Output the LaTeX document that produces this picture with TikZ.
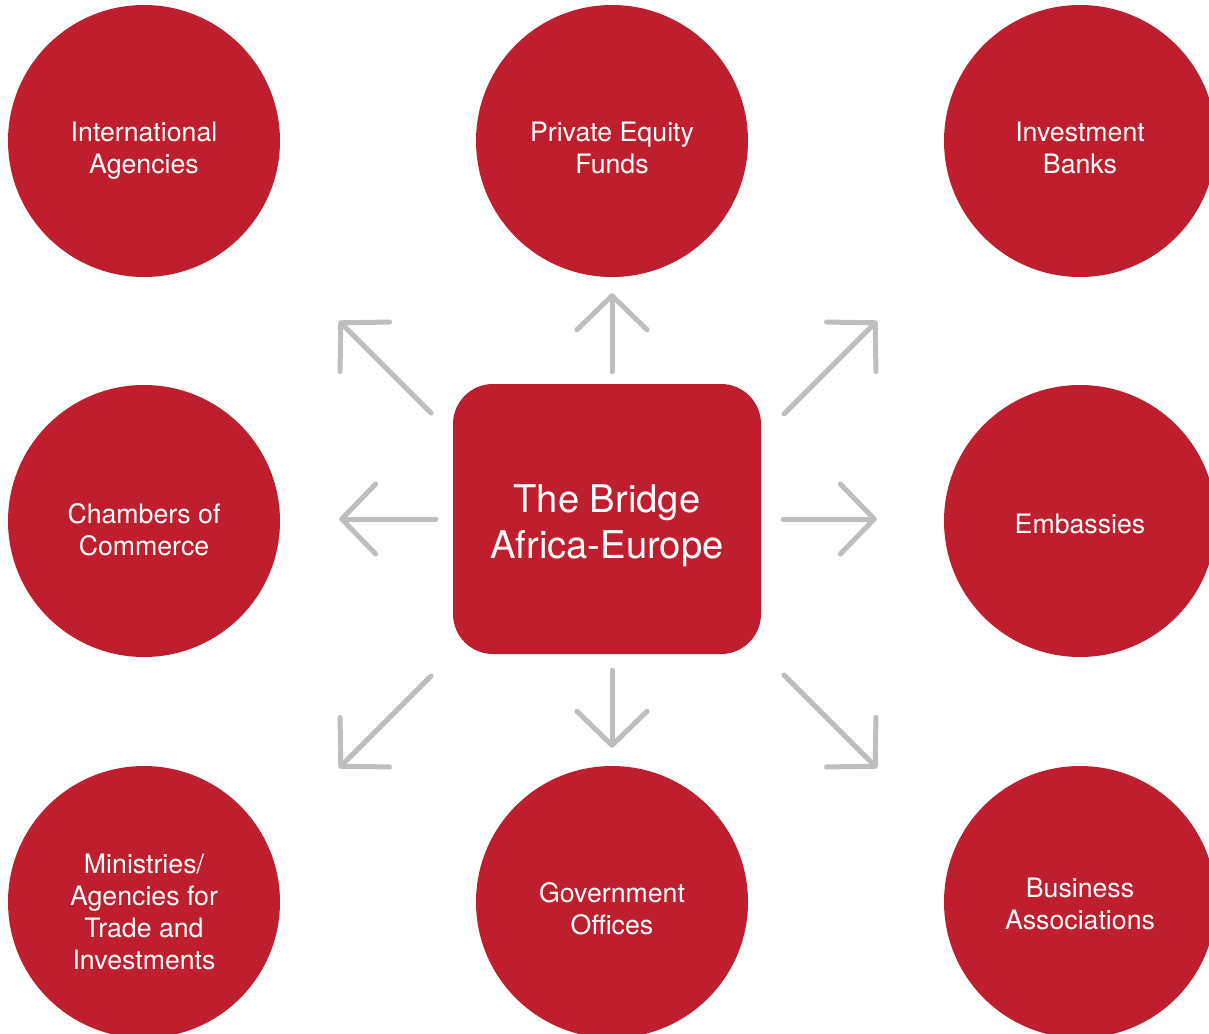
\documentclass[tikz,border=0pt]{standalone}
\usepackage{fontspec}
\setmainfont{TeX Gyre Heros}
\usetikzlibrary{arrows.meta}
\definecolor{bridgered}{HTML}{BE1E2D}
\definecolor{arrowgray}{HTML}{BCBEC0}
% strut that pushes the text of a node down
\newcommand{\textdrop}[1]{\rule{0pt}{#1}}
\tikzset{
    partner/.style={
           circle,
           fill=bridgered,
           minimum size=272pt,
           inner sep=0pt,
           text=white,
           align=center,
           font=\fontsize{26.7}{32}\selectfont},
    hub/.style={
           rectangle,
           rounded corners=40pt,
           fill=bridgered,
           minimum width=308pt,
           minimum height=270pt,
           text=white,
           align=center,
           font=\fontsize{38.2}{46}\selectfont},
    % Define arrow style
    links/.style={
           -{Straight Barb[length=34pt,width=70pt,round]},
           draw=arrowgray,
           line width=5pt,
           line cap=round}
}
\begin{document}
\begin{tikzpicture}[x=1pt, y=-1pt]
	\useasboundingbox (0,0) rectangle (1209,1033);
	\node[hub] (bridge) at (607,519) {\textdrop{42pt}The Bridge\\Africa-Europe};

	\node[partner] (intag) at (144,141) {\textdrop{39.5pt}International\\Agencies};
	\node[partner] (pef) at (612,141) {\textdrop{33.5pt}Private Equity\\Funds};
	\node[partner] (banks) at (1080,141) {\textdrop{33.5pt}Investment\\Banks};
	\node[partner] (chambers) at (144,521) {\textdrop{37.5pt}Chambers of\\Commerce};
	\node[partner] (embassies) at (1080,521) {\textdrop{25.5pt}Embassies};
	\node[partner] (ministries) at (144,902) {\textdrop{39.5pt}Ministries/\\Agencies for\\Trade and\\Investments};
	\node[partner] (govoff) at (612,902) {\textdrop{33.5pt}Government\\Offices};
	\node[partner] (busass) at (1080,902) {\textdrop{23.5pt}Business\\Associations};

	\coordinate (nwfrom) at (431,413);
	\coordinate (nwto) at (339,321);
	\coordinate (nefrom) at (784,414);
	\coordinate (neto) at (877,321);
	\coordinate (swfrom) at (431,676);
	\coordinate (swto) at (339,768);
	\coordinate (sefrom) at (784,675);
	\coordinate (seto) at (877,768);

	\draw[links, shorten <=12pt, shorten >=16pt] (pef.south |- bridge.north) -- (pef.south);
	\draw[links, shorten <=16pt, shorten >=18pt] (govoff.north |- bridge.south) -- (govoff.north);
	\draw[links, shorten <=17pt, shorten >=59pt] (bridge.west) -- (bridge.west -| chambers.east);
	\draw[links, shorten <=22pt, shorten >=67pt] (bridge.east) -- (bridge.east -| embassies.west);
	\draw[links] (nwfrom) -- (nwto);
	\draw[links] (nefrom) -- (neto);
	\draw[links] (swfrom) -- (swto);
	\draw[links] (sefrom) -- (seto);
\end{tikzpicture}
\end{document}
